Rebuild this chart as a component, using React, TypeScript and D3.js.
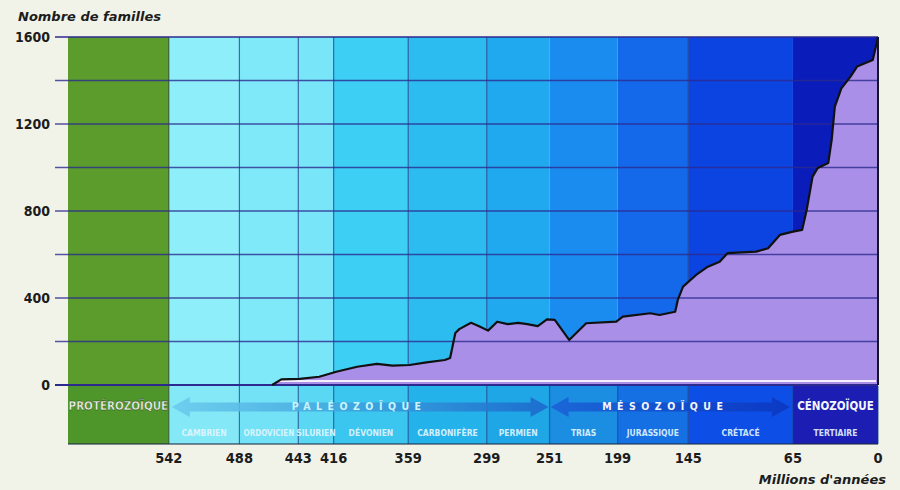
import React from 'react';
import * as d3 from 'd3';

// ---------- data ----------
const yTickValues = [0, 400, 800, 1200, 1600];
const gridValues = [0, 200, 400, 600, 800, 1000, 1200, 1400, 1600];
const xTickValues = [542, 488, 443, 416, 359, 299, 251, 199, 145, 65, 0];

const periodNames = ['CAMBRIEN', 'ORDOVICIEN', 'SILURIEN', 'DÉVONIEN', 'CARBONIFÈRE', 'PERMIEN', 'TRIAS', 'JURASSIQUE', 'CRÉTACÉ', 'TERTIAIRE'];
const periodStarts = [542, 488, 443, 416, 359, 299, 251, 199, 145, 65];
const periodEnds = [488, 443, 416, 359, 299, 251, 199, 145, 65, 0];

const eraNames = ['PROTÉROZOÏQUE', 'PALÉOZOÏQUE', 'MÉSOZOÏQUE', 'CÉNOZOÏQUE'];
const eraStarts = [619, 542, 251, 65];
const eraEnds = [542, 251, 65, 0];

// Millions of years ago -> number of families
const ages = [463, 456, 442, 427, 414, 398, 383, 371, 358, 345, 331, 327, 323, 320, 311, 304, 298, 291, 283, 275, 268, 260, 253, 247, 236, 223, 200, 195, 174, 167, 155, 153, 149, 139, 130, 121, 115, 93, 84, 75, 65, 58, 54.5, 50, 46, 38, 35.4, 33, 28, 21, 16, 4, 1, 0];
const families = [0, 26, 28, 38, 61, 84, 97, 89, 92, 104, 115, 124, 239, 257, 286, 268, 250, 291, 280, 286, 280, 271, 302, 299, 207, 284, 291, 314, 330, 322, 337, 391, 452, 506, 544, 567, 606, 613, 629, 690, 705, 713, 805, 958, 998, 1021, 1127, 1280, 1364, 1418, 1464, 1494, 1571, 1600];

// ---------- styles ----------
const chartColors = ['#8eeffb', '#7fe9fa', '#78e5f9', '#3ecff4', '#2cbcf0', '#20a9ef', '#1a8cf0', '#1468ea', '#0c44e2', '#0a1dbb'];
const bandColors = ['#84e8f7', '#74e2f6', '#5ad8f3', '#3ac6ee', '#24b2ea', '#1ea6e6', '#1b8ee2', '#1570e4', '#0d4fe6', '#1c1db2'];
const GREEN = '#5b9c2c';
const GREEN_BAND = '#4f962a';
const CONDENSED = "'DejaVu Sans Condensed', 'Liberation Sans Narrow', 'DejaVu Sans', sans-serif";
const PLAIN = "'DejaVu Sans', 'Liberation Sans', sans-serif";

const W = 900, H = 490;
const x = d3.scaleLinear().domain([619, 0]).range([68, 878]);
const y = d3.scaleLinear().domain([0, 1600]).range([385, 37]);
const BAND_TOP = 386, BAND_BOTTOM = 444;

function arrowPath(x1: number, x2: number, cy: number) {
  const hl = 18, hh = 10, sh = 4.5;
  const p = d3.path();
  p.moveTo(x1, cy);
  p.lineTo(x1 + hl, cy - hh);
  p.lineTo(x1 + hl, cy - sh);
  p.lineTo(x2 - hl, cy - sh);
  p.lineTo(x2 - hl, cy - hh);
  p.lineTo(x2, cy);
  p.lineTo(x2 - hl, cy + hh);
  p.lineTo(x2 - hl, cy + sh);
  p.lineTo(x1 + hl, cy + sh);
  p.lineTo(x1 + hl, cy + hh);
  p.closePath();
  return p.toString();
}

export default function App() {
  const pts = ages.map((a, i) => [a, families[i]] as [number, number]);
  const area = d3.area<[number, number]>().x(d => x(d[0])).y0(y(0)).y1(d => y(d[1]));
  const line = d3.line<[number, number]>().x(d => x(d[0])).y(d => y(d[1]));
  const x0 = x(619), xEnd = x(0);
  const eraY = 406;

  return (
    <svg width={W} height={H} style={{ position: 'absolute', left: 0, top: 0 }}>
      <defs>
        <linearGradient id="paleo" x1="0" x2="1" y1="0" y2="0">
          <stop offset="0" stopColor="#6cccee" stopOpacity={0.9} />
          <stop offset="0.5" stopColor="#3b9fdc" stopOpacity={0.85} />
          <stop offset="1" stopColor="#1b68cc" stopOpacity={0.9} />
        </linearGradient>
        <linearGradient id="meso" x1="0" x2="1" y1="0" y2="0">
          <stop offset="0" stopColor="#1a62d6" stopOpacity={0.9} />
          <stop offset="1" stopColor="#0b36c0" stopOpacity={0.9} />
        </linearGradient>
      </defs>
      <rect x={0} y={0} width={W} height={H} fill="#f1f3e9" />

      {/* chart columns */}
      <rect x={x0} y={y(1600)} width={x(542) - x0} height={y(0) - y(1600)} fill={GREEN} />
      {periodNames.map((n, i) => (
        <rect key={n} x={x(periodStarts[i])} y={y(1600)} width={x(periodEnds[i]) - x(periodStarts[i])} height={y(0) - y(1600)} fill={chartColors[i]} />
      ))}

      {/* vertical boundary lines in chart */}
      {[542, 488, 443, 416, 359, 299, 145].map(v => (
        <line key={v} x1={x(v)} x2={x(v)} y1={y(1600)} y2={y(0)} stroke={v === 542 ? '#1f3a14' : '#1d3f8f'} strokeOpacity={0.75} strokeWidth={1.2} />
      ))}

      {/* area */}
      <path d={area(pts) || ''} fill="#a98fe8" />
      <line x1={x(458)} x2={xEnd - 2} y1={y(0) - 4} y2={y(0) - 4} stroke="#f4eeff" strokeWidth={2} />

      {/* horizontal grid */}
      {gridValues.map(v => (
        <line key={v} x1={55} x2={xEnd} y1={y(v)} y2={y(v)} stroke="#2c2a8e" strokeOpacity={v === 0 || v === 1600 ? 1 : 0.8} strokeWidth={v === 0 ? 2 : 1.3} />
      ))}

      <path d={line(pts) || ''} fill="none" stroke="#111" strokeWidth={2.2} strokeLinejoin="round" />
      <line x1={xEnd} x2={xEnd} y1={y(1600)} y2={y(0)} stroke="#15152a" strokeWidth={2} />

      {/* y labels */}
      {yTickValues.map(v => (
        <text key={v} x={50} y={y(v)} dy="0.36em" textAnchor="end" fontFamily={CONDENSED} fontWeight="bold" fontSize={14} fill="#1c1c1c">{v}</text>
      ))}
      <text x={18} y={21} fontFamily={PLAIN} fontStyle="italic" fontWeight="bold" fontSize={13} fill="#1c1c1c">Nombre de familles</text>

      {/* band */}
      <rect x={x0} y={BAND_TOP} width={x(542) - x0} height={BAND_BOTTOM - BAND_TOP} fill={GREEN_BAND} />
      {periodNames.map((n, i) => (
        <rect key={n} x={x(periodStarts[i])} y={BAND_TOP} width={x(periodEnds[i]) - x(periodStarts[i])} height={BAND_BOTTOM - BAND_TOP} fill={bandColors[i]} />
      ))}
      {xTickValues.map(v => (
        <line key={v} x1={x(v)} x2={x(v)} y1={BAND_TOP} y2={BAND_BOTTOM} stroke={v === 542 ? '#1f3a14' : '#0f3f88'} strokeOpacity={0.7} strokeWidth={1.2} />
      ))}
      <line x1={x0} x2={xEnd} y1={BAND_BOTTOM} y2={BAND_BOTTOM} stroke="#1a2a40" strokeOpacity={0.7} strokeWidth={1.5} />

      {/* era arrows */}
      <path d={arrowPath(x(542) + 3, x(251) - 1, eraY + 1)} fill="url(#paleo)" />
      <path d={arrowPath(x(251) + 1, x(65) - 3, eraY + 1)} fill="url(#meso)" />

      {eraNames.map((n, i) => {
        const cx = (x(eraStarts[i]) + x(eraEnds[i])) / 2;
        const spaced = i === 1 || i === 2;
        return (
          <text key={n} x={cx + (i === 2 ? -6 : 0)} y={eraY} dy="0.36em" textAnchor="middle"
            fontFamily={CONDENSED} fontWeight="bold" fontSize={spaced ? 10.5 : 11.5}
            letterSpacing={spaced ? 5.5 : 0}
            fill={i === 0 ? '#eef2e6' : i === 1 ? '#c9f3ff' : '#f2f6ff'}
            stroke={i === 0 ? '#1f3a14' : 'none'} strokeWidth={i === 0 ? 0.3 : 0}>
            {n}
          </text>
        );
      })}

      {periodNames.map((n, i) => (
        <text key={n} x={(x(periodStarts[i]) + x(periodEnds[i])) / 2} y={433} dy="0.36em" textAnchor="middle"
          fontFamily={CONDENSED} fontWeight="bold" fontSize={i === 1 ? 8 : 8.5} fill="#e2f6ff" fillOpacity={0.92}>
          {n}
        </text>
      ))}

      {/* x labels */}
      {xTickValues.map(v => (
        <text key={v} x={x(v)} y={463} textAnchor="middle" fontFamily={CONDENSED} fontWeight="bold" fontSize={14.5} fill="#1c1c1c">{v}</text>
      ))}
      <text x={886} y={484} textAnchor="end" fontFamily={PLAIN} fontStyle="italic" fontWeight="bold" fontSize={13} fill="#1c1c1c">Millions d'années</text>
    </svg>
  );
}
